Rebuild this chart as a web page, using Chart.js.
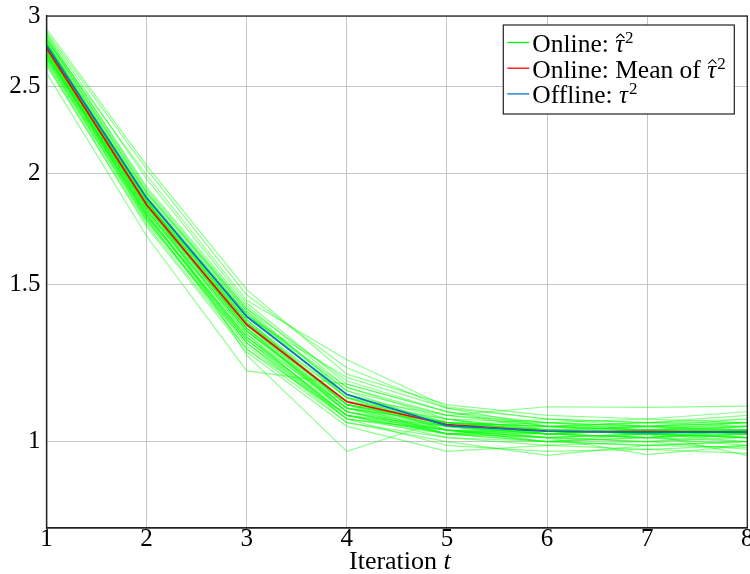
<!DOCTYPE html>
<html>
<head>
<meta charset="utf-8">
<script src="https://cdn.jsdelivr.net/npm/chart.js@4/dist/chart.umd.min.js"></script>
<style>
  html, body { margin: 0; padding: 0; background: #ffffff; }
  #c { display: block; }
</style>
</head>
<body>
<canvas id="c" width="750" height="574"></canvas>
<script>
// Iterations on the x axis and tick labels
const iterations = [1, 2, 3, 4, 5, 6, 7, 8];
const xTickLabels = ['1', '2', '3', '4', '5', '6', '7', '8'];
const yTickValues = [1, 1.5, 2, 2.5, 3];

// Offline estimate tau^2 per iteration
const offlineTau2 = [2.78, 1.876, 1.381, 1.129, 1.042, 1.027, 1.024, 1.025];
// Mean of the online estimates per iteration
const onlineMeanTau2 = [2.762, 1.843, 1.352, 1.108, 1.045, 1.027, 1.026, 1.025];

// Individual online runs of hat-tau^2
const onlineRuns = [
  [2.78, 1.86, 1.37, 1.12, 1.05, 1.03, 1.02, 1.03],
  [2.72, 1.82, 1.33, 1.09, 1.04, 1.02, 1.03, 1.02],
  [2.85, 1.93, 1.42, 1.15, 1.07, 1.04, 1.05, 1.04],
  [2.69, 1.79, 1.30, 1.08, 1.03, 1.01, 1.00, 1.01],
  [2.81, 1.88, 1.36, 1.10, 1.05, 1.04, 1.03, 1.05],
  [2.75, 1.84, 1.34, 1.11, 1.06, 1.02, 1.01, 1.02],
  [2.77, 1.85, 1.39, 1.14, 1.04, 1.03, 1.04, 1.03],
  [2.66, 1.76, 1.29, 1.07, 1.02, 1.00, 0.99, 1.00],
  [2.88, 2.02, 1.46, 1.21, 1.09, 1.06, 1.05, 1.07],
  [2.74, 1.81, 1.32, 1.06, 1.03, 1.03, 1.02, 1.01],
  [2.79, 1.87, 1.38, 1.13, 1.06, 1.05, 1.04, 1.04],
  [2.71, 1.80, 1.31, 1.09, 1.05, 1.02, 1.03, 1.03],
  [2.83, 1.90, 1.40, 1.12, 1.04, 1.01, 1.02, 1.02],
  [2.76, 1.83, 1.35, 1.10, 1.02, 1.00, 1.01, 0.99],
  [2.59, 1.70, 1.20, 1.16, 1.08, 1.03, 1.02, 1.03],
  [2.80, 1.87, 1.25, 0.975, 1.06, 1.02, 1.03, 1.02],
  [2.73, 1.78, 1.27, 1.05, 1.01, 0.99, 1.00, 0.98],
  [2.86, 1.92, 1.41, 1.17, 1.08, 1.05, 1.06, 1.05],
  [2.70, 1.84, 1.36, 1.11, 1.03, 1.02, 1.01, 1.03],
  [2.78, 1.86, 1.33, 1.08, 1.02, 1.04, 1.02, 1.01],
  [2.82, 1.99, 1.44, 1.235, 1.094, 1.06, 1.04, 1.06],
  [2.68, 1.77, 1.30, 1.06, 0.99, 0.975, 0.98, 0.97],
  [2.77, 1.88, 1.39, 1.12, 1.07, 1.094, 1.092, 1.096],
  [2.74, 1.83, 1.34, 1.09, 1.03, 1.01, 1.02, 1.00],
  [2.90, 2.04, 1.48, 1.19, 1.10, 1.07, 1.06, 1.08],
  [2.76, 1.85, 1.37, 1.10, 1.06, 1.03, 1.03, 1.04],
  [2.72, 1.80, 1.29, 1.05, 1.00, 0.965, 0.99, 0.985],
  [2.80, 1.87, 1.38, 1.13, 1.04, 1.02, 1.04, 1.02],
  [2.65, 1.74, 1.26, 1.04, 0.975, 0.99, 0.98, 0.99],
  [2.79, 1.84, 1.35, 1.11, 1.05, 1.04, 1.03, 1.03],
  [2.75, 1.82, 1.32, 1.08, 1.02, 1.01, 0.967, 0.99],
  [2.84, 1.91, 1.40, 1.14, 1.07, 1.05, 1.04, 1.05],
  [2.70, 1.79, 1.31, 1.07, 1.02, 1.03, 1.02, 0.965],
  [2.77, 1.86, 1.36, 1.10, 1.04, 1.02, 1.01, 1.02],
  [2.73, 1.81, 1.33, 1.09, 1.05, 1.04, 1.05, 1.06],
  [2.81, 1.89, 1.39, 1.15, 1.06, 1.03, 1.02, 1.04],
  [2.67, 1.78, 1.28, 1.06, 1.03, 1.00, 1.01, 1.00],
  [2.78, 1.85, 1.36, 1.12, 1.03, 1.02, 1.03, 1.01],
  [2.74, 1.83, 1.34, 1.08, 1.04, 1.05, 1.03, 1.04],
  [2.87, 1.97, 1.43, 1.16, 1.08, 1.04, 1.04, 1.03],
  [2.71, 1.80, 1.30, 1.07, 1.01, 1.00, 1.02, 1.01],
  [2.79, 1.88, 1.37, 1.10, 1.04, 1.06, 1.05, 1.05],
  [2.76, 1.84, 1.35, 1.09, 1.02, 1.01, 1.00, 1.02],
  [2.83, 1.90, 1.41, 1.13, 1.05, 1.03, 1.02, 1.03],
  [2.69, 1.77, 1.29, 1.06, 1.02, 1.02, 1.03, 1.02],
  [2.77, 1.87, 1.38, 1.18, 1.09, 1.04, 1.03, 1.03],
  [2.80, 1.86, 1.34, 1.08, 1.03, 1.00, 0.99, 1.00],
  [2.72, 1.82, 1.33, 1.10, 1.05, 1.03, 1.04, 1.05],
  [2.75, 1.79, 1.31, 1.07, 1.04, 1.02, 1.01, 1.03],
  [2.64, 1.75, 1.27, 1.07, 1.03, 1.01, 1.02, 1.01]
];

const SERIF = '"Liberation Serif", "Times New Roman", serif';
const GREEN = '#00ff00';
const RED = '#ff0000';
const BLUE = '#0b72c6';

function toPoints(values) {
  return values.map((v, i) => ({ x: iterations[i], y: v }));
}

const datasets = [
  { label: 'Offline: tau^2', data: toPoints(offlineTau2), borderColor: BLUE, borderWidth: 1.7 },
  { label: 'Online: Mean of hat-tau^2', data: toPoints(onlineMeanTau2), borderColor: RED, borderWidth: 1.7 }
].concat(onlineRuns.map((run, k) => ({
  label: 'Online run ' + (k + 1),
  data: toPoints(run),
  borderColor: 'rgba(0,255,0,0.45)',
  borderWidth: 1.2
})));

// Frame around the plotting area
const framePlugin = {
  id: 'frame',
  afterDatasetsDraw(chart) {
    const { ctx, chartArea: a } = chart;
    ctx.save();
    ctx.strokeStyle = '#222';
    ctx.lineWidth = 1.3;
    ctx.strokeRect(a.left, a.top, a.right - a.left, a.bottom - a.top);
    ctx.restore();
  }
};

// Draws tau (optionally with a hat) followed by a superscript 2
function drawTauSquared(ctx, x, baseline, hat) {
  ctx.font = 'italic 25px ' + SERIF;
  ctx.fillText('\u03C4', x, baseline);
  const w = ctx.measureText('\u03C4').width;
  if (hat) {
    const cx = x + w * 0.58;
    const top = baseline - 18;
    ctx.beginPath();
    ctx.moveTo(cx - 4, top + 4);
    ctx.lineTo(cx, top);
    ctx.lineTo(cx + 4, top + 4);
    ctx.lineWidth = 1.1;
    ctx.strokeStyle = '#000';
    ctx.stroke();
  }
  ctx.font = '17px ' + SERIF;
  ctx.fillText('2', x + w + 1, baseline - 9);
}

// Legend box and x-axis title
const annotatePlugin = {
  id: 'annotate',
  afterDraw(chart) {
    const { ctx, chartArea: a } = chart;
    ctx.save();

    // legend
    const bx = a.right - 244, by = a.top + 9, bw = 231, bh = 89;
    ctx.fillStyle = '#fff';
    ctx.fillRect(bx, by, bw, bh);
    ctx.strokeStyle = '#222';
    ctx.lineWidth = 1.2;
    ctx.strokeRect(bx, by, bw, bh);

    const entries = [
      { color: GREEN, text: 'Online: ', hat: true },
      { color: RED, text: 'Online: Mean of ', hat: true },
      { color: BLUE, text: 'Offline: ', hat: false }
    ];
    entries.forEach((e, i) => {
      const base = by + 27 + i * 25.7;
      ctx.beginPath();
      ctx.moveTo(bx + 4, base - 9.5);
      ctx.lineTo(bx + 26, base - 9.5);
      ctx.strokeStyle = e.color;
      ctx.lineWidth = 1.3;
      ctx.stroke();
      ctx.fillStyle = '#000';
      ctx.textAlign = 'left';
      ctx.textBaseline = 'alphabetic';
      ctx.font = '25.5px ' + SERIF;
      ctx.fillText(e.text, bx + 29, base);
      const tw = ctx.measureText(e.text).width;
      drawTauSquared(ctx, bx + 29 + tw, base, e.hat);
    });

    // x-axis title: "Iteration t"
    ctx.fillStyle = '#000';
    ctx.textBaseline = 'alphabetic';
    ctx.textAlign = 'left';
    ctx.font = '26px ' + SERIF;
    const part1 = 'Iteration ';
    const w1 = ctx.measureText(part1).width;
    ctx.font = 'italic 26px ' + SERIF;
    const w2 = ctx.measureText('t').width;
    const start = (a.left + a.right) / 2 + 3 - (w1 + w2) / 2;
    ctx.font = '26px ' + SERIF;
    ctx.fillText(part1, start, 569);
    ctx.font = 'italic 26px ' + SERIF;
    ctx.fillText('t', start + w1, 569);

    ctx.restore();
  }
};

const tickFont = { family: SERIF, size: 25, lineHeight: 1 };
const gridStyle = { color: '#c6c6c6', lineWidth: 1, drawTicks: false };
const borderStyle = { display: true, color: '#222', width: 1.3 };

new Chart(document.getElementById('c'), {
  type: 'line',
  data: { datasets },
  options: {
    responsive: false,
    animation: false,
    devicePixelRatio: 1,
    layout: { padding: { top: 16, right: 2.7, left: 0, bottom: 0 } },
    plugins: { legend: { display: false }, tooltip: { enabled: false } },
    elements: { point: { radius: 0 }, line: { tension: 0, fill: false } },
    scales: {
      x: {
        type: 'linear',
        min: 1,
        max: 8,
        ticks: {
          stepSize: 1,
          padding: -1,
          color: '#000',
          font: tickFont,
          maxRotation: 0,
          autoSkip: false,
          callback: (v) => xTickLabels[iterations.indexOf(v)] ?? ''
        },
        grid: gridStyle,
        border: borderStyle,
        afterFit: (s) => { s.height = 46; s.paddingLeft = 0; s.paddingRight = 0; }
      },
      y: {
        type: 'logarithmic',
        min: 0.8,
        max: 3,
        afterBuildTicks: (s) => { s.ticks = yTickValues.map((v) => ({ value: v })); },
        ticks: {
          padding: 6,
          color: '#000',
          font: tickFont,
          autoSkip: false,
          callback: (v) => String(v)
        },
        grid: gridStyle,
        border: borderStyle,
        afterFit: (s) => { s.width = 46.5; s.paddingTop = 0; s.paddingBottom = 0; }
      }
    }
  },
  plugins: [framePlugin, annotatePlugin]
});
</script>
</body>
</html>
